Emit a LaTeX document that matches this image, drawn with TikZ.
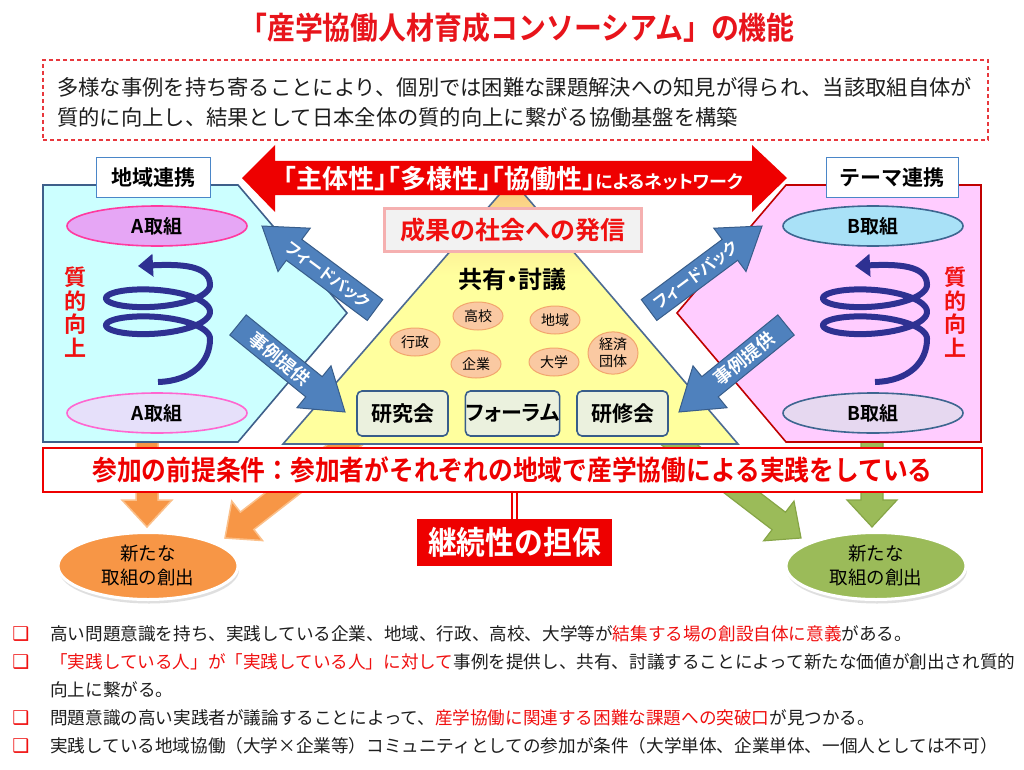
\documentclass[tikz,border=0pt]{standalone}
\usepackage{fontspec}
\setmainfont{Noto Sans CJK JP}[BoldFont=Noto Sans CJK JP Bold]
\newfontfamily\jpc{Noto Sans CJK JP Bold}[FakeStretch=0.9]
\newfontfamily\jpp{Noto Sans CJK JP}[RawFeature=+palt,BoldFont=Noto Sans CJK JP Bold]
\newfontfamily\djv{DejaVu Sans}
\usetikzlibrary{calc,shadows,arrows.meta,shapes.geometric}

\definecolor{ttlred}{HTML}{E8141B}
\definecolor{dashred}{HTML}{E8383D}
\definecolor{bigred}{HTML}{EE0000}
\definecolor{txt}{HTML}{1E1E1E}
\definecolor{cyanfill}{HTML}{CCFFFF}
\definecolor{cyanbd}{HTML}{3E5F8A}
\definecolor{pinkfill}{HTML}{FFCCFF}
\definecolor{pinkbd}{HTML}{C00000}
\definecolor{lblbd}{HTML}{4A86C8}
\definecolor{aone}{HTML}{E6A6F5}
\definecolor{aonebd}{HTML}{FF3AA0}
\definecolor{atwo}{HTML}{E6E0FA}
\definecolor{atwobd}{HTML}{FF66D0}
\definecolor{bone}{HTML}{A9E1F7}
\definecolor{btwo}{HTML}{E6D8F0}
\definecolor{bbd}{HTML}{3D6690}
\definecolor{spiralc}{HTML}{2E3192}
\definecolor{qred}{HTML}{F01010}
\definecolor{bluearr}{HTML}{4F81BD}
\definecolor{bluebd}{HTML}{385D8A}
\definecolor{triY}{HTML}{FFFF9E}
\definecolor{triO}{HTML}{F9C27A}
\definecolor{triM}{HTML}{FCE08E}
\definecolor{tribd}{HTML}{4C6A92}
\definecolor{smfill}{HTML}{FAC9A2}
\definecolor{smbd}{HTML}{F2A66E}
\definecolor{kboxfill}{HTML}{EBF1DE}
\definecolor{kboxbd}{HTML}{385D8A}
\definecolor{orangef}{HTML}{F79646}
\definecolor{orangebd}{HTML}{FBC08A}
\definecolor{greenf}{HTML}{9BBB59}
\definecolor{greenbd}{HTML}{86A546}
\definecolor{seikafill}{HTML}{F2F2F2}
\definecolor{seikabd}{HTML}{F5B0B0}

\pgfdeclareverticalshading{trishade}{100bp}{color(0bp)=(triY); color(25bp)=(triY); color(57bp)=(triY); color(68bp)=(triM); color(75bp)=(triO); color(100bp)=(triO)}

% block arrow: tail, tip, shaft half width, head half width, head length, style
\newcommand\blockarrow[6]{%
  \coordinate (hb) at ($(#2)!#5!(#1)$);
  \path[#6] ($(#1)!#3!90:(#2)$) -- ($(hb)!#3!90:(#2)$) -- ($(hb)!#4!90:(#2)$) -- (#2)
    -- ($(hb)!#4!-90:(#2)$) -- ($(hb)!#3!-90:(#2)$) -- ($(#1)!#3!-90:(#2)$) -- cycle;
}

\begin{document}
\begin{tikzpicture}[x=1pt,y=-1pt,
  ttl/.style={text=ttlred, inner sep=0pt, font=\jpc\fontsize{31}{34}\selectfont},
  body/.style={anchor=west, inner sep=0pt, text=txt, font=\fontsize{21.3}{25}\selectfont},
  lbl/.style={draw=lblbd, line width=1pt, fill=white, minimum height=39pt, inner sep=0pt, font=\bfseries\fontsize{21}{25}\selectfont},
  ell/.style={ellipse, minimum width=180pt, minimum height=40pt, line width=1.6pt, inner sep=0pt, font=\bfseries\fontsize{19}{23}\selectfont},
  qual/.style={text=qred, align=center, inner sep=0pt, font=\bfseries\fontsize{22}{23.5}\selectfont},
  spiral/.style={draw=spiralc, line width=6pt, -{Triangle[length=15pt,width=22pt]}},
  barrow/.style={fill=bluearr, draw=bluebd, line width=1pt},
  blbl/.style={text=white, inner sep=0pt, font=\jpp\bfseries\fontsize{16}{18}\selectfont},
  small/.style={ellipse, fill=smfill, draw=smbd, line width=1pt, minimum width=50pt, minimum height=28pt, inner sep=0pt, align=center, font=\fontsize{14}{16}\selectfont},
  kbox/.style={rounded corners=5pt, fill=kboxfill, draw=kboxbd, line width=1.6pt, minimum width=91pt, minimum height=45pt, inner sep=0pt, font=\bfseries\fontsize{21}{24}\selectfont},
  oarrow/.style={fill=orangef, draw=orangebd, line width=1.5pt},
  garrow/.style={fill=greenf, draw=greenbd, line width=1.2pt},
  newell/.style={ellipse, draw=white, line width=3pt, minimum width=180pt, minimum height=67pt, inner sep=0pt, align=center,
     font=\fontsize{18.5}{24}\selectfont, drop shadow={shadow xshift=1pt, shadow yshift=-4pt, opacity=0.25}},
  bul/.style={inner sep=0pt, text=qred, font=\djv\fontsize{19}{20}\selectfont},
  btxt/.style={anchor=west, inner sep=0pt, text=txt, font=\fontsize{17.6}{20}\selectfont}
]
\useasboundingbox (0,0) rectangle (1024,770);
\fill[white] (0,0) rectangle (1024,770);

% ---------- title and dashed box
\node[ttl] (title) at (517,28) {「産学協働人材育成コンソーシアム」の機能};
\node[draw=dashred, dash pattern=on 4pt off 3pt, line width=1.4pt, minimum width=945pt, minimum height=80pt, inner sep=0pt] (dbox) at (515.5,100) {};
\node[body] (b1) at (57,87) {多様な事例を持ち寄ることにより、個別では困難な課題解決への知見が得られ、当該取組自体が};
\node[body] (b2) at (57,117) {質的に向上し、結果として日本全体の質的向上に繋がる協働基盤を構築};

% ---------- bottom arrows (behind)
\coordinate (ovT) at (147,432); \coordinate (ovH) at (147,527);
\coordinate (odT) at (360,433); \coordinate (odH) at (225,538);
\coordinate (gvT) at (872,432); \coordinate (gvH) at (872,527);
\coordinate (gdT) at (664,433); \coordinate (gdH) at (801,538);
\blockarrow{ovT}{ovH}{11pt}{25pt}{27pt}{oarrow}
\blockarrow{odT}{odH}{11pt}{25pt}{28pt}{oarrow}
\blockarrow{gvT}{gvH}{11pt}{25pt}{27pt}{garrow}
\blockarrow{gdT}{gdH}{11pt}{25pt}{28pt}{garrow}

% ---------- side panels
\draw[fill=cyanfill, draw=cyanbd, line width=1.6pt] (43,185) -- (238,185) -- (347,313) -- (238,442) -- (43,442) -- cycle;
\draw[fill=pinkfill, draw=pinkbd, line width=1.6pt] (981,185) -- (786,185) -- (677,313) -- (786,442) -- (981,442) -- cycle;
\node[lbl, minimum width=114pt] (lblL) at (153,177.5) {地域連携};
\node[lbl, minimum width=132pt] (lblR) at (892,177.5) {テーマ連携};

\node[ell, fill=aone, draw=aonebd] (a1) at (157,226) {A取組};
\node[ell, fill=atwo, draw=atwobd] (a2) at (157,413) {A取組};
\node[ell, fill=bone, draw=bbd] (bb1) at (873,226) {B取組};
\node[ell, fill=btwo, draw=bbd] (bb2) at (873,413) {B取組};

\node[qual] (qL) at (75,312) {質\\的\\向\\上};
\node[qual] (qR) at (955,312) {質\\的\\向\\上};

% spirals
\foreach \sx in {0,717}{
\begin{scope}[xshift=\sx pt]
\draw[spiral] (158,382) .. controls (192,381) and (210,362) .. (210,339)
  -- plot[variable=\t, domain=450:1170, samples=160] ({158+52*sin(\t)},{332+0.075*(540-\t)+15*cos(\t)})
  .. controls (210,265) and (180,264) .. (138,266);
\end{scope}}

% ---------- triangle
\shadedraw[shading=trishade, draw=tribd, line width=1.6pt] (512,180) coordinate (apex) -- (738,444) coordinate (trR) -- (283,444) coordinate (trL) -- cycle;

% ---------- big red double arrow
\fill[bigred] (242,178) -- (275,145) -- (275,161) -- (752,161) -- (752,145) -- (787,178) -- (752,212) -- (752,195) -- (275,195) -- (275,212) -- cycle;
\node[text=white, inner sep=0pt, font=\jpp\bfseries] (net) at (513.5,179) {\fontsize{26}{28}\selectfont「主体性」「多様性」「協働性」\fontsize{18}{20}\selectfont によるネットワーク};

% ---------- centre content
\node[fill=seikafill, draw=seikabd, line width=3pt, minimum width=257pt, minimum height=43pt, inner sep=0pt, text=qred, font=\bfseries\fontsize{25}{28}\selectfont] (seika) at (512.5,230) {成果の社会への発信};
\node[inner sep=0pt, font=\jpp\bfseries\fontsize{24}{26}\selectfont] (kyoyu) at (512,279) {共有・討議};

\node[small] (koko) at (478,316) {高校};
\node[small] (chiiki) at (555,320) {地域};
\node[small] (gyosei) at (415,342) {行政};
\node[small] (kigyo) at (476,364) {企業};
\node[small] (daigaku) at (554,362) {大学};
\node[small, minimum height=40pt, font=\fontsize{14}{17}\selectfont] (keizai) at (613,353) {経済\\団体};

\node[kbox] (kenkyu) at (402.5,413.5) {研究会};
\node[kbox, font=\jpp\bfseries\fontsize{21}{24}\selectfont] (forum) at (512.5,413.5) {フォーラム};
\node[kbox] (kenshu) at (622.5,413.5) {研修会};

% ---------- blue arrows
\coordinate (fbLT) at (375,310); \coordinate (fbLH) at (262,226);
\coordinate (jrLT) at (238,325); \coordinate (jrLH) at (345,412);
\coordinate (fbRT) at (649,310); \coordinate (fbRH) at (762,226);
\coordinate (jrRT) at (786,325); \coordinate (jrRH) at (679,412);
\blockarrow{fbLT}{fbLH}{13pt}{27pt}{40pt}{barrow}
\path (fbLT) -- (hb) node[pos=0.58, sloped, blbl] (fbLtext) {フィードバック};
\blockarrow{jrLT}{jrLH}{13pt}{27pt}{40pt}{barrow}
\path (jrLT) -- (hb) node[pos=0.55, sloped, blbl, font=\bfseries\fontsize{18}{20}\selectfont] (jrLtext) {事例提供};
\blockarrow{fbRT}{fbRH}{13pt}{27pt}{40pt}{barrow}
\path (fbRT) -- (hb) node[pos=0.58, sloped, blbl] (fbRtext) {フィードバック};
\blockarrow{jrRT}{jrRH}{13pt}{27pt}{40pt}{barrow}
\path (jrRT) -- (hb) node[pos=0.55, sloped, blbl, font=\bfseries\fontsize{18}{20}\selectfont] (jrRtext) {事例提供};

% ---------- condition box
\node[fill=white, draw=bigred, line width=2.5pt, minimum width=939pt, minimum height=44pt, inner sep=0pt, text=bigred, font=\jpc\fontsize{27.5}{30}\selectfont] (cond) at (512.5,470) {参加の前提条件：参加者がそれぞれの地域で産学協働による実践をしている};
\node[fill=bigred, minimum width=195pt, minimum height=47pt, inner sep=0pt, text=white, font=\jpc\fontsize{32}{36}\selectfont] (keizoku) at (514.5,542.5) {継続性の担保};
\draw[draw=bigred, double=white, double distance=3.5pt, line width=1.5pt] (cond.south -| keizoku.north) -- (keizoku.north);

% ---------- new ellipses
\node[newell, fill=orangef] (newL) at (148,566) {新たな\\取組の創出};
\node[newell, fill=greenf] (newR) at (876,566) {新たな\\取組の創出};

% ---------- bullets
\node[bul] (m1) at (21,634) {❑};
\node[bul] (m2) at (21,662) {❑};
\node[bul] (m3) at (21,718) {❑};
\node[bul] (m4) at (21,746) {❑};
\node[btxt] (t1) at (50,634) {高い問題意識を持ち、実践している企業、地域、行政、高校、大学等が{\color{qred}結集する場の創設自体に意義}がある。};
\node[btxt] (t2) at (50,662) {{\color{qred}「実践している人」が「実践している人」に対して}事例を提供し、共有、討議することによって新たな価値が創出され質的};
\node[btxt] (t2b) at (50,690) {向上に繋がる。};
\node[btxt] (t3) at (50,718) {問題意識の高い実践者が議論することによって、{\color{qred}産学協働に関連する困難な課題への突破口}が見つかる。};
\node[btxt] (t4) at (50,746) {実践している地域協働（大学×企業等）コミュニティとしての参加が条件（大学単体、企業単体、一個人としては不可）};
\end{tikzpicture}
\end{document}
